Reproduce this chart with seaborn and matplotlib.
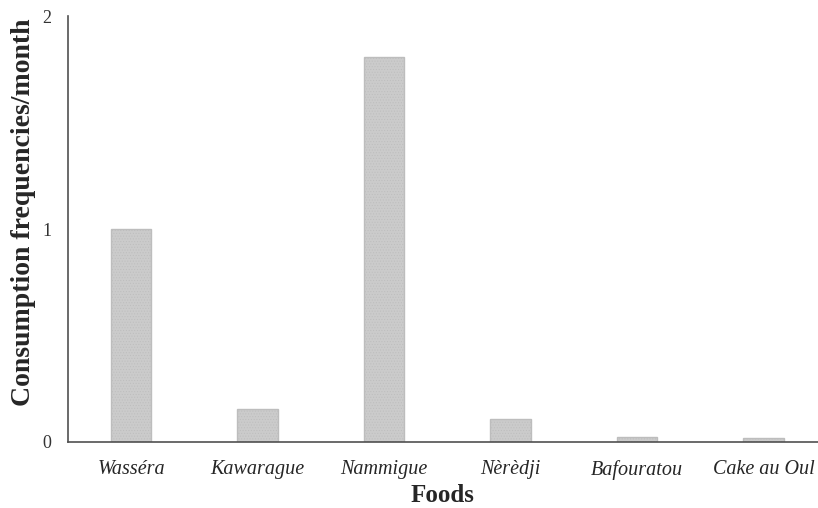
import matplotlib
matplotlib.use("Agg")
import matplotlib.pyplot as plt
import pandas as pd
import seaborn as sns

foods = ["Wasséra", "Kawarague", "Nammigue", "Nèrèdji", "Bafouratou", "Cake au Oul"]
freq = [1.00, 0.155, 1.81, 0.108, 0.023, 0.018]

df = pd.DataFrame({"food": foods, "freq": freq})

sns.set_style("white")
plt.rcParams["font.family"] = ["Liberation Serif", "DejaVu Serif"]
plt.rcParams["hatch.linewidth"] = 0.4

fig, ax = plt.subplots(figsize=(8.18, 5.08), dpi=100)
fig.subplots_adjust(left=0.083, right=1.0, bottom=0.13, top=0.968)

sns.barplot(data=df, x="food", y="freq", color="#cbcbcb", width=0.32,
            edgecolor="#bdbdbd", linewidth=1, saturation=1, ax=ax)
for p in ax.patches:
    p.set_hatch("......")

ax.set_ylim(0, 2)
ax.set_xlim(-0.5, 5.43)
ax.set_yticks([0, 1, 2])
ax.tick_params(axis="y", length=0, pad=12, labelsize=13, colors="#333333")
ax.tick_params(axis="x", length=0, pad=13, labelsize=14.5)
for lbl in ax.get_xticklabels():
    lbl.set_fontstyle("italic")

sns.despine(ax=ax)
for s in ("left", "bottom"):
    ax.spines[s].set_color("#505050")
    ax.spines[s].set_linewidth(1.2)

ax.set_xlabel("Foods", fontsize=18, fontweight="bold", labelpad=3)
ax.set_ylabel("Consumption frequencies/month", fontsize=20, fontweight="bold")
ax.yaxis.set_label_coords(-0.043, 0.54)

fig.savefig("out.png", dpi=100)
